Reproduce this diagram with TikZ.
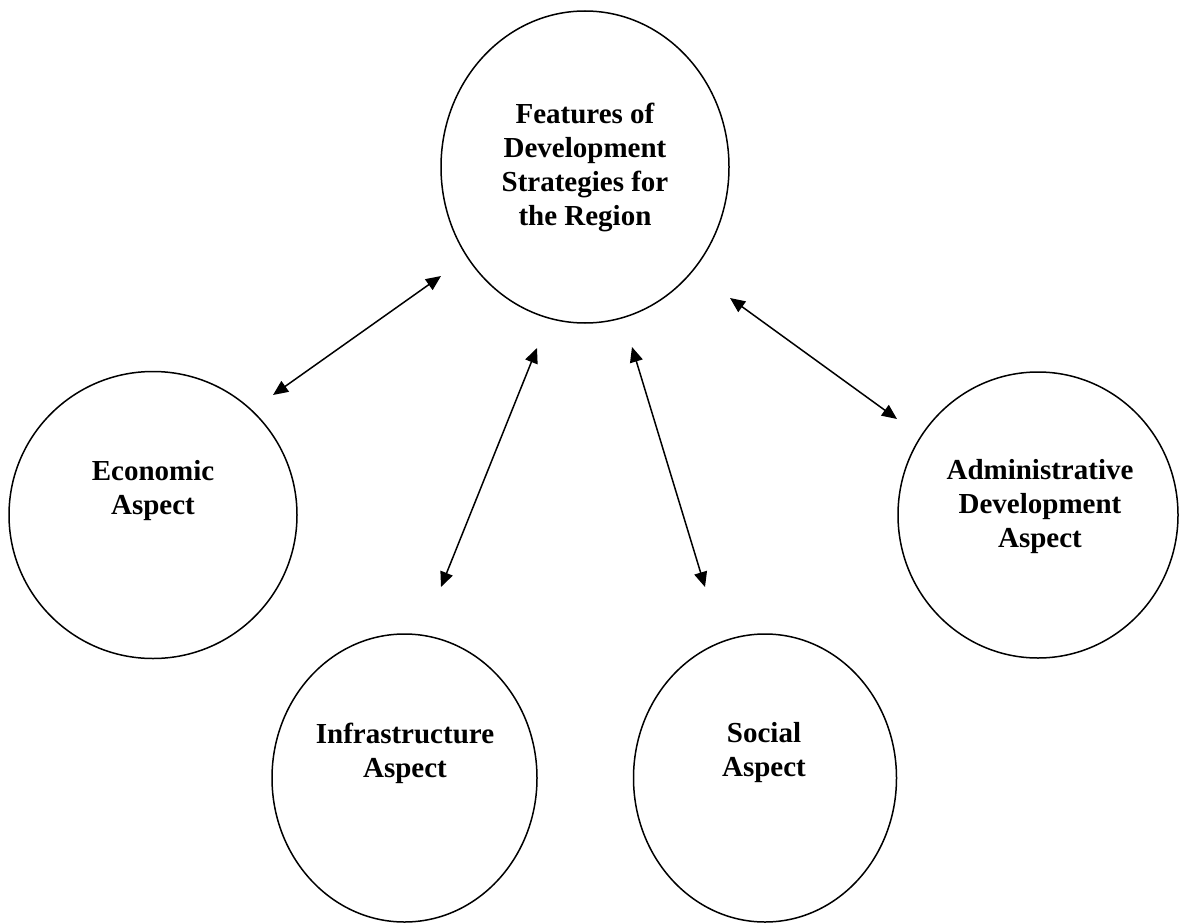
\documentclass[tikz,border=0pt]{standalone}
\usepackage{fontspec}
\setmainfont{Liberation Serif}
\usetikzlibrary{shapes.geometric,arrows.meta}
\begin{document}
\begin{tikzpicture}[x=1pt,y=-1pt,
  aspect/.style={draw,ellipse,line width=1.5pt,inner sep=0pt},
  caption/.style={align=center,font=\fontsize{29}{34}\selectfont\bfseries},
  biarrow/.style={line width=1.5pt,{Triangle[length=15pt,width=13pt]}-{Triangle[length=15pt,width=13pt]}}]
  \useasboundingbox (0,0) rectangle (1180,923);

  % ellipses
  \node[aspect,minimum width=288pt,minimum height=312pt] (top) at (585,167) {};
  \node[aspect,minimum width=288pt,minimum height=287pt] (econ) at (153,515) {};
  \node[aspect,minimum width=280pt,minimum height=286pt] (admin) at (1038,515) {};
  \node[aspect,minimum width=265pt,minimum height=288pt] (infra) at (404.5,778) {};
  \node[aspect,minimum width=263pt,minimum height=288pt] (social) at (765,778) {};

  % captions
  \node[caption] (top-text) at (585,167) {Features of\\Development\\Strategies for\\the Region};
  \node[caption] (econ-text) at (153,491) {Economic\\Aspect};
  \node[caption] (admin-text) at (1040,507) {Administrative\\Development\\Aspect};
  \node[caption] (infra-text) at (405,753) {Infrastructure\\Aspect};
  \node[caption] (social-text) at (764,753) {Social\\Aspect};

  % arrow end points just outside the ellipses
  \coordinate (top-econ) at (441,276);
  \coordinate (econ-top) at (273,395);
  \coordinate (top-infra) at (537,348);
  \coordinate (infra-top) at (441,587);
  \coordinate (top-social) at (632,347);
  \coordinate (social-top) at (705,587);
  \coordinate (top-admin) at (730,298);
  \coordinate (admin-top) at (897,419);

  \draw[biarrow] (top-econ) -- (econ-top);
  \draw[biarrow] (top-infra) -- (infra-top);
  \draw[biarrow] (top-social) -- (social-top);
  \draw[biarrow] (top-admin) -- (admin-top);
\end{tikzpicture}
\end{document}
